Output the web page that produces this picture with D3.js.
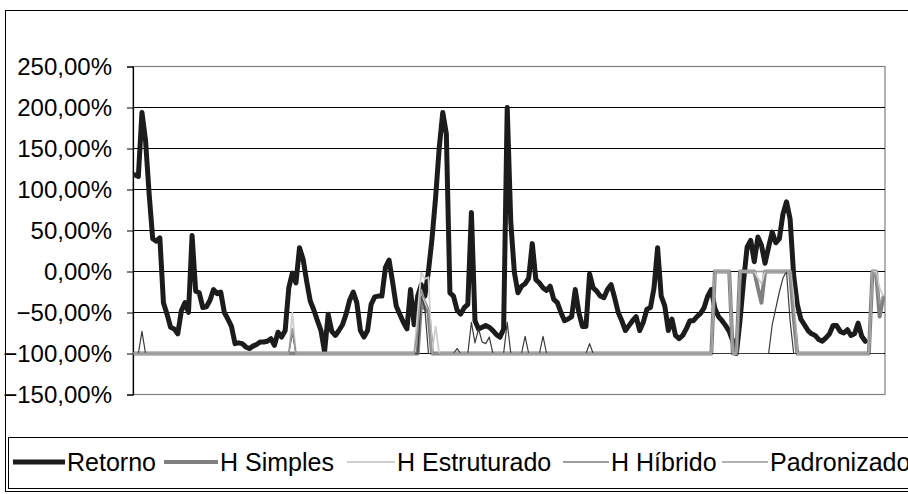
<!DOCTYPE html>
<html>
<head>
<meta charset="utf-8">
<script src="https://cdn.jsdelivr.net/npm/d3@7"></script>
<style>
  html, body { margin: 0; padding: 0; background: #fff; }
  svg { display: block; }
  text { font-family: "Liberation Sans", Arial, sans-serif; fill: #000; }
</style>
</head>
<body>
<svg id="chart" width="908" height="494"></svg>
<script>
// Monthly series, values in percent
const retorno = [
  118,116,194,160,95,40,37,41,-38,-52,
  -68,-70,-76,-48,-38,-50,44,-24,-26,-44,
  -43,-35,-22,-27,-25,-50,-58,-67,-88,-87,
  -88,-92,-94,-91,-89,-86,-86,-85,-82,-90,
  -74,-80,-72,-20,-2,-14,29,15,-12,-36,
  -47,-60,-72,-98,-52,-73,-78,-72,-65,-52,
  -35,-25,-38,-72,-80,-72,-40,-31,-30,-30,
  5,14,-13,-42,-52,-62,-70,-22,-65,-30,
  -16,-30,0,40,90,150,194,168,-26,-30,
  -47,-52,-44,-40,72,-60,-70,-68,-66,-68,
  -72,-77,-80,-70,200,60,-1,-26,-18,-15,
  -8,34,-10,-14,-20,-23,-18,-34,-38,-50,
  -60,-58,-55,-22,-50,-67,-67,-3,-20,-24,
  -30,-32,-22,-16,-32,-50,-60,-72,-66,-60,
  -55,-72,-62,-46,-44,-20,29,-30,-42,-72,
  -58,-78,-82,-78,-70,-60,-60,-55,-51,-44,
  -30,-22,-45,-55,-60,-66,-73,-85,-100,-60,
  -12,30,38,12,42,32,10,30,48,35,
  40,70,85,64,-5,-40,-58,-65,-72,-76,
  -78,-83,-85,-81,-76,-66,-66,-73,-75,-71,
  -78,-76,-63,-79,-85,null,null,null,null,null
];

const hSimples = [
  -100,-100,-100,-100,-100,-100,-100,-100,-100,-100,
  -100,-100,-100,-100,-100,-100,-100,-100,-100,-100,
  -100,-100,-100,-100,-100,-100,-100,-100,-100,-100,
  -100,-100,-100,-100,-100,-100,-100,-100,-100,-100,
  -100,-100,-100,-100,-100,-100,-100,-100,-100,-100,
  -100,-100,-100,-100,-100,-100,-100,-100,-100,-100,
  -100,-100,-100,-100,-100,-100,-100,-100,-100,-100,
  -100,-100,-100,-100,-100,-100,-100,-100,-100,-100,
  -35,-45,-50,-100,-100,-100,-100,-100,-100,-100,
  -100,-100,-100,-100,-100,-100,-100,-100,-100,-100,
  -100,-100,-100,-100,-100,-100,-100,-100,-100,-100,
  -100,-100,-100,-100,-100,-100,-100,-100,-100,-100,
  -100,-100,-100,-100,-100,-100,-100,-100,-100,-100,
  -100,-100,-100,-100,-100,-100,-100,-100,-100,-100,
  -100,-100,-100,-100,-100,-100,-100,-100,-100,-100,
  -100,-100,-100,-100,-100,-100,-100,-100,-100,-100,
  -100,-100,0,0,0,0,0,-100,-100,0,
  0,0,0,0,-20,-38,0,0,0,0,
  0,0,0,0,-55,-100,-100,-100,-100,-100,
  -100,-100,-100,-100,-100,-100,-100,-100,-100,-100,
  -100,-100,-100,-100,-100,-100,0,0,-55,-32
];

const hEstruturado = [
  -100,-100,-100,-100,-100,-100,-100,-100,-100,-100,
  -100,-100,-100,-100,-100,-100,-100,-100,-100,-100,
  -100,-100,-100,-100,-100,-100,-100,-100,-100,-100,
  -100,-100,-100,-100,-100,-100,-100,-100,-100,-100,
  -100,-100,-100,-100,-50,-100,-100,-100,-100,-100,
  -100,-100,-100,-100,-100,-100,-100,-100,-100,-100,
  -100,-100,-100,-100,-100,-100,-100,-100,-100,-100,
  -100,-100,-100,-100,-100,-100,-100,-100,-100,-50,
  -1,-9,-7,-100,-67,-100,-100,-100,-100,-100,
  -100,-100,-100,-100,-100,-100,-100,-100,-100,-100,
  -100,-100,-100,-100,-100,-100,-100,-100,-100,-100,
  -100,-100,-100,-100,-100,-100,-100,-100,-100,-100,
  -100,-100,-100,-100,-100,-100,-100,-100,-100,-100,
  -100,-100,-100,-100,-100,-100,-100,-100,-100,-100,
  -100,-100,-100,-100,-100,-100,-100,-100,-100,-100,
  -100,-100,-100,-100,-100,-100,-100,-100,-100,-100,
  -100,-100,0,0,0,0,0,-100,-100,0,
  0,0,0,0,-8,-15,0,0,0,0,
  0,0,0,0,-30,-100,-100,-100,-100,-100,
  -100,-100,-100,-100,-100,-100,-100,-100,-100,-100,
  -100,-100,-100,-100,-100,-100,0,0,-20,-30
];

const hHibrido = [
  -100,-100,-73,-100,-100,-100,-100,-100,-100,-100,
  -100,-100,-100,-100,-100,-100,-100,-100,-100,-100,
  -100,-100,-100,-100,-100,-100,-100,-100,-100,-100,
  -100,-100,-100,-100,-100,-100,-100,-100,-100,-100,
  -100,-100,-100,-100,-75,-100,-100,-100,-100,-100,
  -100,-100,-100,-100,-100,-100,-100,-100,-100,-100,
  -100,-100,-100,-100,-100,-100,-100,-100,-100,-100,
  -100,-100,-100,-100,-100,-100,-100,-100,-100,-100,
  -30,-45,-100,-100,-100,-100,-100,-100,-100,-100,
  -94,-100,-100,-100,-62,-87,-70,-86,-88,-80,
  -100,-100,-100,-100,-62,-100,-100,-100,-100,-79,
  -100,-100,-100,-100,-79,-100,-100,-100,-100,-100,
  -100,-100,-100,-100,-100,-100,-100,-88,-100,-100,
  -100,-100,-100,-100,-100,-100,-100,-100,-100,-100,
  -100,-100,-100,-100,-100,-100,-100,-100,-100,-100,
  -100,-100,-100,-100,-100,-100,-100,-100,-100,-100,
  -100,-100,-100,-100,-100,-100,-100,-100,-100,-100,
  -100,-100,-100,-100,-100,-100,-100,-100,-65,-45,
  -25,-8,0,-60,-100,-100,-100,-100,-100,-100,
  -100,-100,-100,-100,-100,-100,-100,-100,-100,-100,
  -100,-100,-100,-100,-100,-100,-100,-100,-100,-100
];

const padronizado = [
  -100,-100,-100,-100,-100,-100,-100,-100,-100,-100,
  -100,-100,-100,-100,-100,-100,-100,-100,-100,-100,
  -100,-100,-100,-100,-100,-100,-100,-100,-100,-100,
  -100,-100,-100,-100,-100,-100,-100,-100,-100,-100,
  -100,-100,-100,-100,-70,-100,-100,-100,-100,-100,
  -100,-100,-100,-100,-100,-100,-100,-100,-100,-100,
  -100,-100,-100,-100,-100,-100,-100,-100,-100,-100,
  -100,-100,-100,-100,-100,-100,-100,-100,-100,-70,
  -22,-35,-45,-100,-100,-100,-100,-100,-100,-100,
  -100,-100,-100,-100,-100,-100,-100,-100,-100,-100,
  -100,-100,-100,-100,-100,-100,-100,-100,-100,-100,
  -100,-100,-100,-100,-100,-100,-100,-100,-100,-100,
  -100,-100,-100,-100,-100,-100,-100,-100,-100,-100,
  -100,-100,-100,-100,-100,-100,-100,-100,-100,-100,
  -100,-100,-100,-100,-100,-100,-100,-100,-100,-100,
  -100,-100,-100,-100,-100,-100,-100,-100,-100,-100,
  -100,-100,0,0,0,0,0,-100,-100,0,
  0,0,0,0,0,0,0,0,0,0,
  0,0,0,0,-45,-100,-100,-100,-100,-100,
  -100,-100,-100,-100,-100,-100,-100,-100,-100,-100,
  -100,-100,-100,-100,-100,-100,0,-5,-40,-30
];

const seriesNames = ["Retorno", "H Simples", "H Estruturado", "H Híbrido", "Padronizado"];
const yTicks = [-150, -100, -50, 0, 50, 100, 150, 200, 250];

const seriesData = [retorno, hSimples, hEstruturado, hHibrido, padronizado];
const seriesStyle = [
  { color: "#1c1c1c", width: 5 },
  { color: "#808080", width: 4 },
  { color: "#cfcfcf", width: 1.8 },
  { color: "#3a3a3a", width: 1.2 },
  { color: "#999999", width: 1.6 }
];

const periods = retorno.map((_, i) => i);

const svg = d3.select("#chart");
const plot = { left: 133, right: 885, top: 66.5, bottom: 394.5 };

const x = d3.scalePoint().domain(periods).range([plot.left, plot.right]).padding(0.5);
const y = d3.scaleLinear().domain([-150, 250]).range([plot.bottom, plot.top]);

const ptBR = d3.formatLocale({ decimal: ",", thousands: ".", grouping: [3], currency: ["R$ ", ""] });
const fmt = v => ptBR.format(".2f")(v) + "%";

// Outer chart frame
svg.append("rect")
  .attr("x", 5.5).attr("y", 10.5)
  .attr("width", 920).attr("height", 481)
  .attr("fill", "#fff").attr("stroke", "#000").attr("stroke-width", 1);

// Plot area border
svg.append("rect")
  .attr("x", plot.left).attr("y", plot.top)
  .attr("width", plot.right - plot.left).attr("height", plot.bottom - plot.top)
  .attr("fill", "none").attr("stroke", "#808080").attr("stroke-width", 1.2);

// Horizontal gridlines
svg.append("g")
  .selectAll("line")
  .data(yTicks.filter(t => t > -150 && t < 250))
  .join("line")
  .attr("x1", plot.left).attr("x2", plot.right)
  .attr("y1", d => y(d)).attr("y2", d => y(d))
  .attr("stroke", "#000").attr("stroke-width", 1);

// Value axis
const yAxis = svg.append("g")
  .attr("transform", `translate(${plot.left},0)`)
  .call(d3.axisLeft(y).tickValues(yTicks).tickSize(6).tickPadding(15).tickFormat(fmt));
yAxis.select(".domain").attr("stroke", "#000").attr("stroke-width", 1.2);
yAxis.selectAll(".tick line").attr("stroke", "#000");
yAxis.selectAll(".tick text")
  .attr("font-family", "'Liberation Sans', Arial, sans-serif")
  .attr("font-size", 24)
  .attr("fill", "#000")
  .attr("dy", "0.34em");

// Series lines
svg.append("clipPath").attr("id", "plotClip")
  .append("rect")
  .attr("x", plot.left).attr("y", plot.top - 4)
  .attr("width", plot.right - plot.left).attr("height", plot.bottom - plot.top + 8);

const line = d3.line()
  .defined(d => d.v !== null)
  .x(d => x(d.i))
  .y(d => y(d.v));

const lines = svg.append("g").attr("clip-path", "url(#plotClip)");
seriesData.forEach((vals, k) => {
  lines.append("path")
    .datum(vals.map((v, i) => ({ i, v })))
    .attr("d", line)
    .attr("fill", "none")
    .attr("stroke", seriesStyle[k].color)
    .attr("stroke-width", seriesStyle[k].width)
    .attr("stroke-linejoin", "round")
    .attr("stroke-linecap", "round");
});

// Legend
const legend = svg.append("g");
legend.append("rect")
  .attr("x", 8.5).attr("y", 437.5)
  .attr("width", 920).attr("height", 51)
  .attr("fill", "#fff").attr("stroke", "#000").attr("stroke-width", 1);

// Each entry: sample line followed by its label
const legendTextX = [67, 220, 397, 611, 770];
const legendLineLen = [52, 54, 48, 46, 46];
seriesNames.forEach((name, k) => {
  const tx = legendTextX[k];
  legend.append("line")
    .attr("x1", tx - 2 - legendLineLen[k]).attr("x2", tx - 2)
    .attr("y1", 462).attr("y2", 462)
    .attr("stroke", seriesStyle[k].color)
    .attr("stroke-width", seriesStyle[k].width);
  legend.append("text")
    .attr("x", tx).attr("y", 471)
    .attr("font-size", 25)
    .text(name);
});
</script>
</body>
</html>
